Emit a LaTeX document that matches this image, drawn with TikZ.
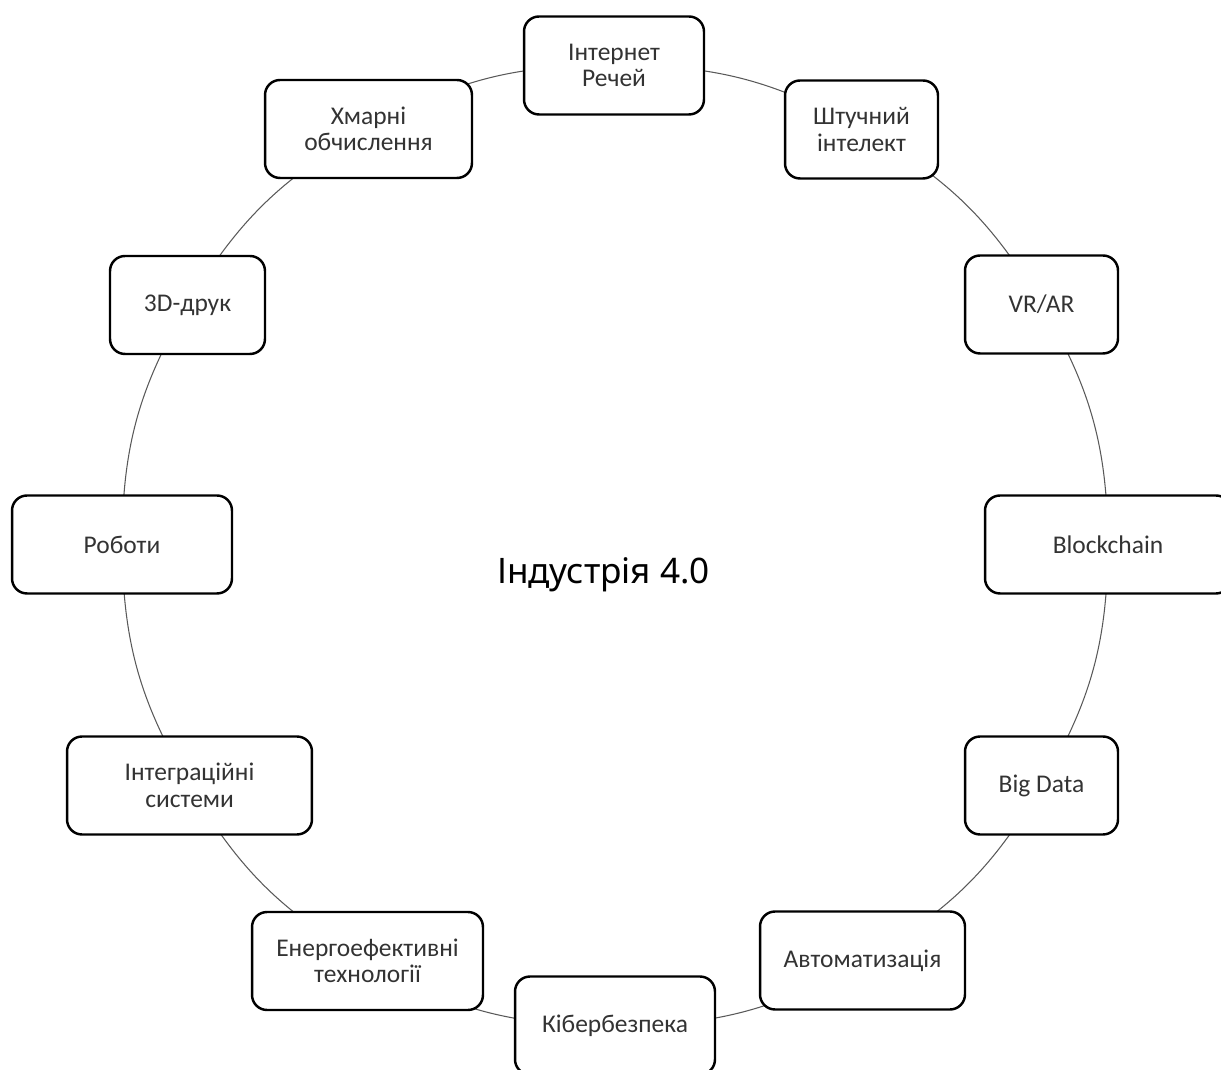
\documentclass[tikz,border=0pt]{standalone}
\usepackage{fontspec}
\setmainfont{Carlito}
\newfontfamily\titlefont{Noto Sans}
\usetikzlibrary{backgrounds}
\tikzset{tech/.style={draw, fill=white, line width=1.4pt, rounded corners=0.3cm, minimum height=1.96cm, align=center, text=black!80, font=\fontsize{14.5}{15}\selectfont}}
\tikzset{link/.style={black!65, line width=0.6pt}}

\begin{document}
\begin{tikzpicture}[x=0.02cm, y=-0.02cm]
    \useasboundingbox (0, 0) rectangle (1221, 1070);
    \node [tech, minimum width=3.6cm] (iot) at (614, 65.5) {Інтернет\\Речей};
    \node [tech, minimum width=3.06cm] (ai) at (861.5, 129.5) {Штучний\\інтелект};
    \node [tech, minimum width=3.06cm] (vrar) at (1041.5, 304.5) {VR/AR};
    \node [tech, minimum width=4.92cm] (chain) at (1108, 544.5) {Blockchain};
    \node [tech, minimum width=3.06cm] (bigdata) at (1041.5, 785.5) {Big Data};
    \node [tech, minimum width=4.1cm] (auto) at (862.5, 960.5) {Автоматизація};
    \node [tech, minimum width=4cm] (cyber) at (615, 1025.5) {Кібербезпека};
    \node [tech, minimum width=4.62cm] (energy) at (367.5, 961) {Енергоефективні\\технології};
    \node [tech, minimum width=4.9cm] (integr) at (189.5, 785.5) {Інтеграційні\\системи};
    \node [tech, minimum width=4.4cm] (robots) at (122, 544.5) {Роботи};
    \node [tech, minimum width=3.1cm] (print) at (187.5, 305) {3D-друк};
    \node [tech, minimum width=4.14cm] (cloud) at (368.5, 129) {Хмарні\\обчислення};
    \node [font=\titlefont\fontsize{20}{24}\selectfont] (title) at (603.5, 575) {Індустрія 4.0};
    \begin{scope}[on background layer]
        \draw [link] (iot.center) to [bend left=15] (ai.center);
        \draw [link] (ai.center) to [bend left=15] (vrar.center);
        \draw [link] (vrar.center) to [bend left=15] (chain.center);
        \draw [link] (chain.center) to [bend left=15] (bigdata.center);
        \draw [link] (bigdata.center) to [bend left=15] (auto.center);
        \draw [link] (auto.center) to [bend left=15] (cyber.center);
        \draw [link] (cyber.center) to [bend left=15] (energy.center);
        \draw [link] (energy.center) to [bend left=15] (integr.center);
        \draw [link] (integr.center) to [bend left=15] (robots.center);
        \draw [link] (robots.center) to [bend left=15] (print.center);
        \draw [link] (print.center) to [bend left=15] (cloud.center);
        \draw [link] (cloud.center) to [bend left=15] (iot.center);
    \end{scope}
\end{tikzpicture}
\end{document}
